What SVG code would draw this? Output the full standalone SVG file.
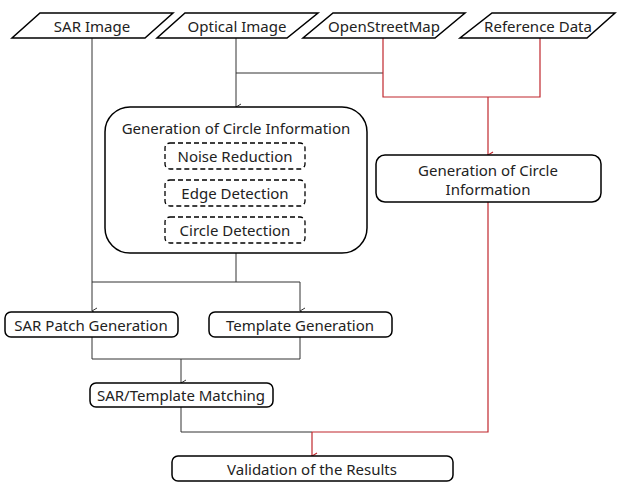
<svg xmlns="http://www.w3.org/2000/svg" width="617" height="483" viewBox="0 0 617 483">
<defs>
<style>
text{font-family:"Noto Sans","DejaVu Sans",sans-serif;font-size:15px;fill:#222;text-anchor:middle;dominant-baseline:central}
.io{fill:#fff;stroke:#000;stroke-width:1.5}
.box{fill:#fff;stroke:#000;stroke-width:1.5}
.dash{fill:#fff;stroke:#000;stroke-width:1.3;stroke-dasharray:5,3}
.k{fill:none;stroke:#333;stroke-width:1}
.r{fill:none;stroke:#c0272d;stroke-width:1.2}
</style>
<marker id="ak" markerWidth="8" markerHeight="8" refX="4" refY="7" orient="auto" markerUnits="userSpaceOnUse" viewBox="0 0 8 8"><path d="M1,2 L4,7 L7,2" fill="none" stroke="#333" stroke-width="1"/></marker>
<marker id="ar" markerWidth="8" markerHeight="8" refX="4" refY="7" orient="auto" markerUnits="userSpaceOnUse" viewBox="0 0 8 8"><path d="M1,2 L4,7 L7,2" fill="none" stroke="#c0272d" stroke-width="1.2"/></marker>
</defs>
<g id="connectors">
<path class="k" d="M92,38 V311" marker-end="url(#ak)"/>
<path class="k" d="M236,38 V107" marker-end="url(#ak)"/>
<path class="k" d="M236,73 H383"/>
<path class="r" d="M383,38 V97 H540 V38"/>
<path class="r" d="M488,97 V155" marker-end="url(#ar)"/>
<path class="k" d="M236,253 V282 H92"/>
<path class="k" d="M236,282 H300 V311" marker-end="url(#ak)"/>
<path class="k" d="M92,337 V359 H300 V337"/>
<path class="k" d="M181,359 V383" marker-end="url(#ak)"/>
<path class="k" d="M181,407 V432 H312"/>
<path class="r" d="M488,202 V432 H312"/>
<path class="r" d="M312,432 V456" marker-end="url(#ar)"/>
</g>
<g id="sar-image"><polygon class="io" points="40,13 173,13 145,38 12,38"/><text x="92" y="26">SAR Image</text></g>
<g id="optical-image"><polygon class="io" points="185,13 318,13 287,38 157,38"/><text x="237" y="26">Optical Image</text></g>
<g id="openstreetmap"><polygon class="io" points="333,13 465,13 435,38 303,38"/><text x="384" y="26">OpenStreetMap</text></g>
<g id="reference-data"><polygon class="io" points="492,13 615,13 587,38 460,38"/><text x="538" y="26">Reference Data</text></g>
<g id="gen-circle-info"><rect class="box" x="105" y="107" width="262" height="146" rx="25"/><text x="236" y="128">Generation of Circle Information</text></g>
<g id="noise-reduction"><rect class="dash" x="165" y="143" width="140" height="26" rx="5"/><text x="235" y="156">Noise Reduction</text></g>
<g id="edge-detection"><rect class="dash" x="165" y="180" width="140" height="26" rx="5"/><text x="235" y="193">Edge Detection</text></g>
<g id="circle-detection"><rect class="dash" x="165" y="217" width="140" height="26" rx="5"/><text x="235" y="230">Circle Detection</text></g>
<g id="gen-circle-info-ref"><rect class="box" x="376" y="155" width="225" height="47" rx="9"/><text x="488" y="170">Generation of Circle</text><text x="488" y="189">Information</text></g>
<g id="sar-patch"><rect class="box" x="5" y="312" width="173" height="25" rx="6"/><text x="91" y="324.5">SAR Patch Generation</text></g>
<g id="template-gen"><rect class="box" x="209" y="312" width="183" height="25" rx="6"/><text x="300" y="324.5">Template Generation</text></g>
<g id="matching"><rect class="box" x="90" y="383" width="183" height="24" rx="6"/><text x="181" y="395">SAR/Template Matching</text></g>
<g id="validation"><rect class="box" x="172" y="456" width="281" height="25" rx="6"/><text x="312" y="468.5">Validation of the Results</text></g>
</svg>
